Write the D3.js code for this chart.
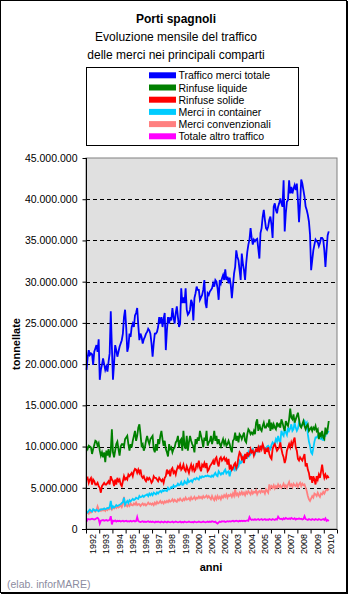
<!DOCTYPE html>
<html><head><meta charset="utf-8">
<script src="https://cdn.jsdelivr.net/npm/d3@7"></script>
<style>
html,body{margin:0;padding:0;background:#fff;}
svg{display:block;font-family:"Liberation Sans",Arial,sans-serif;}
</style></head>
<body>
<svg id="c" width="348" height="594"></svg>
<script>
// ---- DATA (million tonnes, monthly from Jan 1992) ----
const years = [1992,1993,1994,1995,1996,1997,1998,1999,2000,2001,2002,2003,2004,2005,2006,2007,2008,2009,2010];
const yTicks = [0,5,10,15,20,25,30,35,40,45];
const seriesNames = ["Traffico merci totale","Rinfuse liquide","Rinfuse solide","Merci in container","Merci convenzionali","Totale altro traffico"];
const seriesColors = ["#0000ff","#008000","#ff0000","#00ccff","#ff8080","#ff00ff"];

const totale = [
19.3,20.8,21.7,21.1,21.3,21.2,19.9,21.5,21.9,22.3,21.5,23.0,
18.1,19.3,19.9,20.7,20.0,19.3,19.7,19.1,20.3,21.3,26.4,22.1,
18.1,20.1,22.3,21.7,20.9,21.5,22.1,22.5,22.9,23.7,25.7,26.6,
24.5,21.5,22.1,23.7,23.3,24.5,24.9,24.5,25.9,26.2,26.8,24.7,
22.9,23.7,23.3,22.5,23.0,23.3,23.7,23.9,24.3,24.1,23.7,22.5,
20.9,22.5,23.7,23.7,23.9,24.5,25.7,24.9,25.7,24.5,25.5,26.2,
21.7,24.1,25.7,24.9,25.7,25.3,26.8,25.7,24.9,26.2,27.0,25.7,
24.5,24.9,29.2,27.4,28.1,27.4,29.2,26.6,26.0,26.2,26.6,27.8,
27.4,25.3,28.0,28.6,29.4,29.0,29.0,27.8,28.1,28.4,29.0,30.2,
27.4,26.8,28.6,28.4,28.8,29.0,29.2,29.8,29.4,30.2,30.0,29.2,
27.8,30.2,29.8,30.4,30.8,30.2,31.5,30.2,30.6,29.8,30.5,29.6,
28.0,29.5,31.0,31.8,33.8,33.0,32.6,31.4,30.2,33.4,32.2,31.4,
30.2,32.2,33.6,34.5,35.1,36.5,35.3,34.5,35.1,34.9,35.1,35.2,
34.0,32.8,35.9,36.5,37.9,38.7,37.5,36.5,36.3,36.7,37.5,37.9,
36.9,35.3,39.1,39.5,38.7,38.3,39.1,39.5,40.1,39.5,39.1,42.3,
36.1,38.3,39.7,39.9,42.3,40.7,41.5,40.7,41.3,41.7,41.1,41.9,
39.9,37.2,39.5,42.4,41.9,41.1,40.3,39.1,38.7,38.1,37.3,35.7,
31.4,32.6,33.8,34.5,35.1,34.9,34.8,34.3,34.7,35.3,35.3,35.1,
33.8,31.8,33.8,35.6,36.1];

const liquide = [
10.0,9.7,10.1,10.0,9.9,9.1,9.7,10.2,10.7,10.6,10.1,10.4,
9.5,8.9,9.3,8.7,9.3,8.1,9.5,8.9,9.7,8.7,9.5,12.1,
9.3,8.7,9.5,10.3,10.6,9.7,8.9,10.0,10.3,
10.3,10.0,10.9,11.1,11.3,10.3,9.5,10.3,9.9,
10.7,11.3,11.9,10.7,11.3,12.3,12.7,11.5,10.1,
10.3,9.5,9.9,10.7,11.3,10.7,10.3,10.9,11.1,
11.3,9.7,9.3,10.3,9.5,10.9,10.3,11.3,11.9,
10.9,10.1,10.7,9.7,9.3,8.8,10.3,9.7,9.9,
9.3,9.7,9.9,10.5,10.7,11.3,9.9,10.7,10.9,
9.5,11.9,10.1,9.7,11.3,9.5,10.5,11.3,10.7,
10.3,10.0,9.3,10.9,10.3,11.1,10.7,11.9,11.3,
10.7,9.9,11.1,10.7,11.9,10.1,10.5,
10.7,11.3,10.3,10.9,11.9,10.7,11.3,10.3,10.9,
10.3,10.0,10.5,10.9,10.3,10.7,10.1,10.3,10.7,
10.3,9.7,9.3,10.7,10.9,11.7,10.7,11.3,10.5,
11.5,11.3,10.9,11.3,11.7,10.7,10.5,11.5,12.1,
11.9,11.5,11.7,11.5,11.9,11.5,12.9,13.3,11.9,
12.7,12.1,11.9,12.5,12.9,12.3,12.3,12.7,12.5,
13.3,11.9,12.9,12.1,12.7,12.3,12.1,12.9,12.5,
12.7,12.3,13.3,12.9,12.3,11.9,13.1,12.7,12.5,
13.3,14.6,13.5,13.3,13.9,12.9,13.3,13.7,14.1,
13.3,12.5,12.3,12.7,13.1,12.5,12.1,12.5,12.7,
11.9,12.1,12.3,11.9,12.3,12.1,12.5,11.9,12.1,
10.9,11.7,11.3,11.9,11.1,10.9,12.3,11.5,12.1,13.1];

const solide = [
6.0,6.2,5.6,6.0,6.2,5.4,6.0,5.8,5.4,
5.4,5.6,5.2,5.0,4.4,5.2,5.4,5.6,5.4,
5.4,5.6,5.8,5.4,6.4,6.0,5.8,5.2,6.0,
5.4,6.2,5.8,6.0,5.4,5.2,5.8,6.4,6.0,
6.2,6.0,6.6,6.4,6.6,6.8,6.4,7.0,7.3,
7.2,6.8,7.2,6.8,7.2,6.4,6.2,6.4,6.0,
5.8,6.2,6.0,6.2,6.0,5.6,5.8,6.4,6.2,
6.2,6.0,5.8,6.2,6.0,5.8,6.0,5.6,6.2,
6.4,7.2,6.8,7.0,6.4,7.2,7.4,6.8,7.0,
6.6,7.2,7.6,7.4,7.8,7.2,7.4,7.8,7.2,
7.0,7.6,7.2,6.8,7.4,7.8,7.2,7.6,7.0,
7.2,8.0,7.6,8.3,7.4,7.0,7.8,7.6,8.0,
7.4,8.0,7.0,7.2,
7.6,7.8,8.0,8.3,7.8,8.5,8.7,8.0,7.6,
8.5,8.7,8.3,8.5,8.7,8.3,8.5,7.8,8.5,
7.2,7.8,7.2,7.4,7.8,8.0,7.4,7.8,8.7,
9.3,9.1,8.5,8.7,8.0,9.1,8.5,9.3,8.9,
9.1,9.7,9.3,9.5,8.9,9.3,9.7,9.5,9.9,
9.3,10.1,9.7,10.3,9.9,9.1,9.7,9.5,9.9,
9.1,8.7,8.5,9.7,10.1,10.3,9.9,9.5,9.7,
9.9,10.5,9.7,9.1,8.7,8.0,8.5,9.5,9.9,
10.3,9.9,10.5,10.1,10.7,11.1,9.9,9.5,8.5,
8.3,8.7,8.5,8.3,8.7,9.1,7.6,8.0,7.2,
6.8,6.0,6.4,5.6,6.4,6.0,5.4,6.4,6.0,
6.6,6.2,7.0,7.8,6.8,6.2,6.6,6.2,6.4,6.2];

const container = [
2.1,2.0,2.2,2.35,2.2,2.1,2.4,2.3,2.2,2.35,2.25,2.15,
2.3,2.4,2.35,2.4,2.5,2.4,2.45,2.55,2.5,2.7,3.4,2.55,
2.75,2.6,2.7,2.9,2.8,2.85,2.95,3.0,3.15,3.25,3.8,2.95,
3.2,3.4,3.15,3.5,3.35,3.5,3.65,3.5,3.6,3.8,3.7,3.65,
4.0,3.85,3.9,4.05,3.9,4.05,4.1,4.2,4.0,4.3,4.1,4.3,
4.1,4.4,4.3,4.2,4.45,4.3,4.5,4.6,4.45,4.7,4.6,4.7,
4.65,4.6,5.0,4.8,4.9,5.1,5.0,5.3,5.1,5.2,5.25,5.5,
5.3,5.4,5.7,5.35,5.4,5.8,5.6,5.5,6.0,5.7,5.8,5.9,
5.7,6.0,6.1,6.0,6.2,6.1,6.0,6.35,6.2,6.4,6.3,6.35,
6.45,6.4,6.5,6.4,
6.4,6.3,6.5,6.35,6.6,6.8,6.5,6.4,7.0,6.8,6.6,6.8,
6.7,7.0,7.2,6.75,6.9,7.0,6.4,7.0,7.2,7.4,7.2,7.8,
7.2,7.4,7.6,8.25,8.0,8.1,8.7,8.3,8.5,8.9,8.7,9.3,
8.9,9.1,9.5,9.7,9.3,9.1,9.5,9.7,9.3,10.1,9.7,9.7,
10.0,9.9,9.8,9.7,10.0,10.1,9.9,9.7,10.2,10.5,10.3,10.4,
10.9,10.6,11.3,10.7,10.5,11.9,11.5,11.3,12.1,11.7,11.4,12.3,
11.9,12.2,12.7,11.9,12.1,12.9,12.3,11.9,12.2,12.9,12.7,12.5,
12.6,12.9,13.1,12.7,12.9,11.5,10.6,10.1,9.3,9.1,9.8,10.6,
11.1,11.1,11.3,11.1,11.0,10.9,11.3,10.7,11.3,11.3,12.1,11.7,11.9];

const convenzionali = [
1.9,2.0,1.85,2.1,2.0,2.15,2.3,2.2,2.1,2.3,2.75,2.4,
2.3,2.2,2.4,2.25,2.35,2.2,2.45,2.3,2.5,2.4,2.6,2.35,
2.6,2.5,2.7,2.55,2.75,2.6,2.7,2.9,2.65,3.0,3.9,2.8,
2.9,2.75,3.0,2.8,3.1,2.9,2.85,3.1,2.95,3.2,2.9,3.0,
3.0,2.8,2.95,3.1,2.9,3.05,2.85,3.0,3.2,3.0,3.1,2.95,
3.1,2.9,3.2,3.0,3.3,3.1,3.2,3.4,3.15,3.3,3.1,3.35,
3.2,3.4,3.25,3.5,3.3,3.4,3.6,3.35,3.55,3.4,3.3,3.6,
3.45,3.7,3.5,3.4,3.65,3.5,3.8,3.55,3.6,3.75,3.5,3.85,
3.6,3.7,3.9,3.6,3.8,3.7,3.95,3.75,3.9,3.7,4.0,3.8,
3.9,4.05,3.8,4.0,
3.8,3.6,4.0,3.7,3.5,3.9,3.6,4.0,3.7,3.9,3.6,4.0,
3.8,4.1,3.9,4.2,3.8,4.1,4.0,4.2,3.9,4.3,4.0,4.8,
4.1,4.3,4.0,4.4,4.2,4.5,4.2,4.4,4.1,4.5,4.3,4.6,
4.4,4.2,4.6,4.3,4.5,4.4,4.7,4.2,4.5,4.6,4.4,4.7,
4.5,4.6,4.3,4.8,4.6,4.4,5.4,4.9,5.2,5.0,5.3,4.9,
5.2,5.0,5.4,5.1,5.3,5.0,5.2,5.5,5.1,5.3,5.0,5.4,
5.7,5.2,5.4,5.1,5.5,5.3,5.2,5.5,5.1,5.4,5.6,5.2,
5.5,5.3,5.4,5.0,4.6,4.0,3.6,3.4,3.7,4.0,3.8,4.3,
4.2,4.0,4.4,4.1,3.9,4.3,4.2,4.5,4.3,4.6,4.8,4.7,4.9];

const altro = [
0.9,1.2,1.2,1.15,1.2,1.25,1.2,1.15,1.2,1.3,1.35,1.2,
0.65,1.0,1.05,1.1,1.0,1.05,1.1,1.0,1.05,1.1,1.55,0.55,
1.0,0.95,1.05,0.9,1.0,0.95,1.0,0.9,0.95,1.0,0.9,0.95,
1.0,0.9,0.95,0.9,1.0,0.9,0.95,1.0,0.9,0.95,1.45,0.95,
0.9,0.85,0.9,0.95,0.85,0.9,0.85,0.9,0.95,0.85,0.9,0.85,
0.9,0.85,0.8,0.9,0.85,0.9,0.85,0.8,0.9,0.85,0.8,0.9,
0.85,0.8,0.9,0.85,0.8,0.85,0.9,0.8,0.85,0.9,0.85,0.8,
0.85,0.9,0.8,0.85,0.8,0.9,0.85,0.8,0.85,0.9,0.85,0.8,
0.85,0.8,0.9,0.85,0.8,0.85,0.9,0.85,0.8,0.85,0.9,0.85,
0.8,0.85,0.9,0.85,
0.9,0.85,0.95,0.9,0.85,0.9,0.75,0.65,0.8,0.9,0.85,0.95,
0.9,0.95,0.85,0.9,0.95,0.9,0.95,0.9,0.95,1.0,0.9,0.95,
1.0,0.95,0.9,1.0,0.95,1.0,0.95,1.0,0.95,1.0,1.05,1.0,
1.45,1.2,1.1,1.15,1.1,1.2,1.1,1.15,1.2,1.1,1.15,1.2,
1.1,1.15,1.2,1.1,1.15,1.1,1.2,1.15,1.1,1.2,1.15,1.1,
1.2,1.15,1.5,1.3,1.2,1.25,1.15,1.3,1.2,1.35,1.25,1.2,
1.3,1.2,1.35,1.25,1.2,1.3,1.15,1.25,1.2,1.3,1.2,1.25,
1.15,1.2,1.55,1.2,1.15,1.1,1.2,1.15,1.1,1.2,1.15,1.1,
1.2,1.15,1.1,1.2,1.15,1.1,1.15,1.2,1.1,1.3,1.0,1.1,0.95];

// ---- DRAW ----
const svg = d3.select("#c");
const font = '"Liberation Sans",Arial,sans-serif';

// outer frame
svg.append("rect").attr("x",0.5).attr("y",0.5).attr("width",346).attr("height",592)
  .attr("fill","#fff").attr("stroke","#000");
svg.append("line").attr("x1",347.5).attr("x2",347.5).attr("y1",1).attr("y2",594).attr("stroke","#000");
svg.append("line").attr("x1",1).attr("x2",348).attr("y1",593.5).attr("y2",593.5).attr("stroke","#000");

// titles
const T = svg.append("g").attr("text-anchor","middle").attr("font-size",12).attr("fill","#000");
T.append("text").attr("x",176).attr("y",22.5).attr("font-weight","bold").text("Porti spagnoli");
T.append("text").attr("x",176).attr("y",40.5).text("Evoluzione mensile del traffico");
T.append("text").attr("x",176).attr("y",58.5).text("delle merci nei principali comparti");

// scales
const L = 86, R = 337, TOP = 158, BOT = 529;
const nMonths = years.length * 12;
const x = d3.scaleLinear().domain([0, nMonths]).range([L, R]);
const y = d3.scaleLinear().domain([0, 45]).range([BOT, TOP]);
const loc = d3.formatLocale({decimal:",", thousands:".", grouping:[3], currency:["","€"]});
const fmt = v => loc.format(",")(Math.round(v*1e6));

// plot area
svg.append("rect").attr("x",L).attr("y",TOP).attr("width",R-L).attr("height",BOT-TOP)
  .attr("fill","#e0e0e0").attr("stroke","#808080").attr("stroke-width",1);

// gridlines
svg.append("g").selectAll("line").data(yTicks.filter(v=>v>0 && v<45)).join("line")
  .attr("x1",L).attr("x2",R).attr("y1",d=>Math.round(y(d))+0.5).attr("y2",d=>Math.round(y(d))+0.5)
  .attr("stroke","#000").attr("stroke-dasharray","4,3");

// lines
const series = [totale, liquide, solide, container, convenzionali, altro];
const lineGen = d3.line().x((d,i)=>x(i+0.5)).y(d=>y(d));
const order = [4,3,2,1,5,0];
order.forEach(k=>{
  svg.append("path").datum(series[k]).attr("d",lineGen)
    .attr("fill","none").attr("stroke",seriesColors[k]).attr("stroke-width",1.8)
    .attr("stroke-linejoin","miter");
});

// y axis
const yAxis = svg.append("g").attr("transform",`translate(${L+0.5},0)`)
  .call(d3.axisLeft(y).tickValues(yTicks).tickSize(4).tickPadding(5).tickFormat(fmt));
yAxis.select(".domain").attr("stroke","#000").attr("d",`M0,${TOP}V${BOT+4}`);
yAxis.selectAll("line").attr("stroke","#000");
yAxis.selectAll("text").attr("font-family",font).attr("font-size",10.5).attr("fill","#000");

// x axis ticks
const xAxis = svg.append("g").attr("transform",`translate(0,${BOT+0.5})`)
  .call(d3.axisBottom(x).tickValues(d3.range(0,nMonths+1,12)).tickSize(4).tickFormat(""));
xAxis.select(".domain").attr("stroke","#000").attr("d",`M${L-4},0H${R}`);
xAxis.selectAll("line").attr("stroke","#000");

// x labels
svg.append("g").selectAll("text").data(years).join("text")
  .attr("transform",(d,i)=>`translate(${x(i*12+6)+3.5},${BOT+5}) rotate(-90)`)
  .attr("text-anchor","end").attr("font-size",9).attr("fill","#000").text(d=>d);

// axis titles
svg.append("text").attr("transform",`translate(19.5,344) rotate(-90)`).attr("text-anchor","middle")
  .attr("font-weight","bold").attr("font-size",11).text("tonnellate");
svg.append("text").attr("x",211).attr("y",571).attr("text-anchor","middle")
  .attr("font-weight","bold").attr("font-size",11).text("anni");

// source
svg.append("text").attr("x",7).attr("y",588).attr("font-size",10.5).attr("fill","#8c8ca0")
  .text("(elab. inforMARE)");

// legend
svg.append("rect").attr("x",86.5).attr("y",67.5).attr("width",212).attr("height",78)
  .attr("fill","#fff").attr("stroke","#000");
const lg = svg.append("g").selectAll("g").data(seriesNames).join("g")
  .attr("transform",(d,i)=>`translate(149,${75.3 + i*12.2})`);
lg.append("rect").attr("x",0).attr("y",-3).attr("width",27).attr("height",6)
  .attr("fill",(d,i)=>seriesColors[i]);
lg.append("text").attr("x",29.5).attr("y",4).attr("font-size",10.5).attr("fill","#000").text(d=>d);
</script>
</body></html>
